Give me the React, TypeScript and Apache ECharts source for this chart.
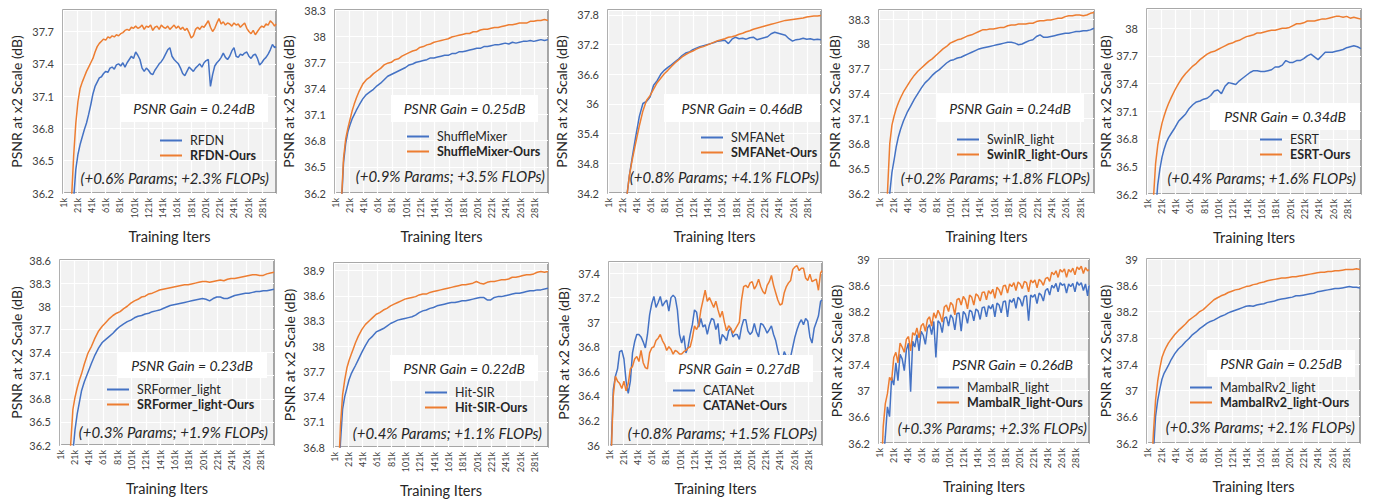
import React, { useEffect, useRef } from "react";
import * as echarts from "echarts";

// ---------- axis categories / iteration grids ----------
const CATEGORIES = Array.from({ length: 300 }, (_, i) => `${i + 1}k`);

const SMOOTH_ITERS = [1, 6, 10, 13, 16, 19, 22, 25, 28, 31, 35, 40, 45, 50,
  55, 60, 65, 70, 75, 80, 85, 90, 95, 100, 105, 110, 115, 120, 125, 130, 135, 140, 145, 150,
  155, 160, 165, 170, 175, 180, 185, 190, 195, 200, 205, 210, 215, 220, 225, 230, 235, 240, 245, 250,
  255, 260, 265, 270, 275, 280, 285, 290, 295, 300];

const NOISY_ITERS = [1, 4, 7, 10, 13, 16, 19, 22, 25, 28, 31, 34, 37, 40, 43, 46, 49, 52, 55, 58,
  61, 64, 67, 70, 73, 76, 79, 82, 85, 88, 91, 94, 97, 100, 103, 106, 109, 112, 115, 118,
  121, 124, 127, 130, 133, 136, 139, 142, 145, 148, 151, 154, 157, 160, 163, 166, 169, 172, 175, 178,
  181, 184, 187, 190, 193, 196, 199, 202, 205, 208, 211, 214, 217, 220, 223, 226, 229, 232, 235, 238,
  241, 244, 247, 250, 253, 256, 259, 262, 265, 268, 271, 274, 277, 280, 283, 286, 289, 292, 295, 298, 300];

// ---------- names & annotations ----------
const BASE_NAMES = ["RFDN", "ShuffleMixer", "SMFANet", "SwinIR_light", "ESRT",
  "SRFormer_light", "Hit-SIR", "CATANet", "MambaIR_light", "MambaIRv2_light"];
const GAINS = ["0.24", "0.25", "0.46", "0.24", "0.34", "0.23", "0.22", "0.27", "0.26", "0.25"];
const PARAMS = ["+0.6", "+0.9", "+0.8", "+0.2", "+0.4", "+0.3", "+0.4", "+0.8", "+0.3", "+0.3"];
const FLOPS = ["+2.3", "+3.5", "+4.1", "+1.8", "+1.6", "+1.9", "+1.1", "+1.5", "+2.3", "+2.1"];

// y axis: [min, max, interval]
const Y_AXES = [
  [36.2, 37.9, 0.3], [36.2, 38.3, 0.3], [34.2, 37.9, 0.6], [36.2, 38.41, 0.3], [36.2, 38.21, 0.3],
  [36.2, 38.6, 0.3], [36.8, 38.99, 0.3], [36.0, 37.49, 0.2], [36.2, 39.0, 0.4], [36.2, 39.0, 0.4],
];

// ---------- series values ----------
const RFDN_BASE = [34.8, 35.1, 35.4, 35.7, 35.95, 36.15, 36.42, 36.56, 36.65, 36.72,
  36.79, 36.85, 36.93, 37.02, 37.12, 37.19, 37.23, 37.27, 37.28, 37.31,
  37.33, 37.32, 37.36, 37.37, 37.35, 37.39, 37.4, 37.38, 37.41, 37.37,
  37.41, 37.44, 37.47, 37.45, 37.51, 37.48, 37.44, 37.36, 37.33, 37.36,
  37.34, 37.31, 37.3, 37.34, 37.37, 37.4, 37.42, 37.45, 37.49, 37.53,
  37.55, 37.47, 37.44, 37.42, 37.4, 37.36, 37.31, 37.29, 37.33, 37.37,
  37.35, 37.33, 37.36, 37.38, 37.4, 37.37, 37.41, 37.43, 37.44, 37.19,
  37.3, 37.38, 37.41, 37.43, 37.46, 37.5, 37.46, 37.44, 37.47, 37.52,
  37.55, 37.47, 37.46, 37.49, 37.48, 37.5, 37.51, 37.47, 37.45, 37.48,
  37.49, 37.45, 37.39, 37.41, 37.44, 37.46, 37.49, 37.53, 37.58, 37.55, 37.56];
const RFDN_OURS = [35.0, 35.3, 35.6, 35.9, 36.15, 36.55, 36.85, 37.05, 37.17, 37.23,
  37.28, 37.33, 37.37, 37.41, 37.45, 37.51, 37.56, 37.59, 37.61, 37.63,
  37.62, 37.65, 37.64, 37.66, 37.65, 37.67, 37.66, 37.68, 37.69, 37.71,
  37.72, 37.71, 37.74, 37.73, 37.75, 37.73, 37.74, 37.76, 37.72, 37.75,
  37.74, 37.76, 37.71, 37.74, 37.75, 37.72, 37.76, 37.74, 37.73, 37.75,
  37.72, 37.74, 37.76, 37.73, 37.75, 37.72, 37.74, 37.71, 37.73, 37.69,
  37.64, 37.66, 37.72, 37.74, 37.72, 37.75, 37.74, 37.77, 37.8, 37.74,
  37.7, 37.73, 37.78, 37.82, 37.77, 37.79, 37.76, 37.78, 37.77, 37.75,
  37.78, 37.76, 37.77, 37.74, 37.76, 37.78, 37.73, 37.7, 37.68, 37.71,
  37.67, 37.7, 37.73, 37.75, 37.74, 37.77, 37.76, 37.8, 37.78, 37.75, 37.77];

const SHUFFLE_BASE = [34.4, 35.2, 36.05, 36.55, 36.77, 36.9, 36.98, 37.05, 37.1, 37.15, 37.21, 37.28, 37.33, 37.36,
  37.39, 37.43, 37.46, 37.5, 37.54, 37.56, 37.58, 37.6, 37.62, 37.64,
  37.67, 37.68, 37.7, 37.71, 37.72, 37.73, 37.75, 37.75, 37.76, 37.77,
  37.78, 37.78, 37.8, 37.8, 37.82, 37.82, 37.83, 37.84, 37.85, 37.86,
  37.86, 37.88, 37.88, 37.89, 37.9, 37.9, 37.91, 37.92, 37.91, 37.93,
  37.92, 37.93, 37.94, 37.94, 37.95, 37.94, 37.95, 37.96, 37.95, 37.96];
const SHUFFLE_OURS = [34.5, 35.3, 36.1, 36.6, 36.82, 36.94, 37.04, 37.14, 37.22, 37.29, 37.37, 37.45, 37.5, 37.53,
  37.57, 37.6, 37.63, 37.67, 37.69, 37.7, 37.73, 37.74, 37.77, 37.79,
  37.81, 37.83, 37.84, 37.87, 37.88, 37.9, 37.91, 37.93, 37.94, 37.95,
  37.96, 37.97, 37.99, 38.0, 38.01, 38.02, 38.03, 38.03, 38.05, 38.05,
  38.07, 38.08, 38.08, 38.09, 38.1, 38.1, 38.11, 38.12, 38.13, 38.13,
  38.14, 38.15, 38.15, 38.15, 38.17, 38.17, 38.18, 38.18, 38.19, 38.18];

const SMFA_BASE = [30.2, 31.0, 31.6, 32.1, 32.6, 33.1, 33.5, 33.9, 34.2, 34.55, 34.92, 35.35, 35.75, 36.01,
  36.05, 36.14, 36.38, 36.47, 36.6, 36.68, 36.74, 36.79, 36.85, 36.91,
  36.98, 37.03, 37.05, 37.1, 37.13, 37.16, 37.18, 37.2, 37.22, 37.24,
  37.27, 37.28, 37.29, 37.22, 37.31, 37.35, 37.32, 37.33, 37.31, 37.34,
  37.35, 37.3, 37.32, 37.34, 37.36, 37.42, 37.45, 37.43, 37.41, 37.39,
  37.32, 37.27, 37.3, 37.31, 37.33, 37.31, 37.32, 37.3, 37.31, 37.3];
const SMFA_OURS = [30.0, 30.8, 31.5, 32.0, 32.5, 33.0, 33.5, 33.9, 34.2, 34.55, 34.87, 35.22, 35.56, 35.86,
  36.07, 36.17, 36.3, 36.43, 36.52, 36.61, 36.68, 36.76, 36.83, 36.89,
  36.95, 37.0, 37.04, 37.07, 37.11, 37.14, 37.16, 37.19, 37.22, 37.25,
  37.28, 37.3, 37.32, 37.35, 37.36, 37.38, 37.41, 37.43, 37.46, 37.48,
  37.51, 37.53, 37.55, 37.57, 37.59, 37.61, 37.63, 37.65, 37.67, 37.69,
  37.7, 37.71, 37.72, 37.73, 37.74, 37.76, 37.77, 37.78, 37.78, 37.79];

const SWINIR_BASE = [33.8, 34.6, 35.3, 35.8, 36.2, 36.45, 36.6, 36.76, 36.88, 36.97, 37.07, 37.17, 37.25, 37.33,
  37.4, 37.47, 37.53, 37.57, 37.62, 37.66, 37.69, 37.73, 37.77, 37.8,
  37.81, 37.83, 37.84, 37.86, 37.88, 37.9, 37.92, 37.94, 37.95, 37.96,
  37.97, 37.98, 37.99, 38.0, 38.01, 38.02, 38.02, 38.01, 37.99, 38.0,
  38.02, 38.04, 38.05, 38.09, 38.11, 38.08, 38.08, 38.09, 38.1, 38.11,
  38.12, 38.13, 38.13, 38.14, 38.15, 38.15, 38.16, 38.16, 38.17, 38.19];
const SWINIR_OURS = [34.0, 34.8, 35.6, 36.25, 36.8, 37.02, 37.13, 37.22, 37.29, 37.35, 37.42, 37.49, 37.56, 37.62,
  37.67, 37.71, 37.75, 37.79, 37.82, 37.86, 37.9, 37.94, 37.97, 38.01,
  38.03, 38.05, 38.06, 38.08, 38.1, 38.11, 38.13, 38.15, 38.17, 38.17,
  38.18, 38.18, 38.19, 38.2, 38.2, 38.22, 38.23, 38.23, 38.24, 38.24,
  38.24, 38.25, 38.25, 38.27, 38.28, 38.28, 38.29, 38.29, 38.3, 38.31,
  38.31, 38.33, 38.34, 38.34, 38.35, 38.35, 38.34, 38.35, 38.37, 38.38];

const ESRT_BASE = [34.2, 35.0, 35.6, 36.0, 36.3, 36.47, 36.6, 36.69, 36.76, 36.81, 36.86, 36.92, 36.99, 37.03,
  37.07, 37.13, 37.17, 37.2, 37.21, 37.23, 37.24, 37.27, 37.32, 37.33,
  37.29, 37.37, 37.41, 37.4, 37.39, 37.43, 37.46, 37.49, 37.52, 37.54,
  37.54, 37.53, 37.53, 37.54, 37.55, 37.58, 37.58, 37.6, 37.65, 37.63,
  37.63, 37.65, 37.65, 37.67, 37.7, 37.72, 37.69, 37.66, 37.7, 37.74,
  37.74, 37.74, 37.75, 37.76, 37.77, 37.79, 37.8, 37.81, 37.8, 37.78];
const ESRT_OURS = [34.5, 35.4, 36.15, 36.53, 36.73, 36.86, 36.97, 37.05, 37.12, 37.18, 37.25, 37.33, 37.4, 37.46,
  37.51, 37.55, 37.59, 37.62, 37.66, 37.69, 37.72, 37.74, 37.75, 37.77,
  37.79, 37.81, 37.83, 37.84, 37.86, 37.87, 37.89, 37.91, 37.92, 37.93,
  37.95, 37.95, 37.96, 37.97, 37.98, 37.98, 37.99, 38.0, 38.0, 38.01,
  38.03, 38.05, 38.05, 38.06, 38.08, 38.08, 38.08, 38.09, 38.1, 38.1,
  38.11, 38.12, 38.13, 38.13, 38.12, 38.13, 38.11, 38.12, 38.11, 38.1];

const SRFORMER_BASE = [33.8, 34.5, 35.1, 35.5, 35.85, 36.1, 36.4, 36.6, 36.75, 36.9, 37.02, 37.14, 37.26, 37.37,
  37.46, 37.53, 37.57, 37.61, 37.65, 37.7, 37.74, 37.77, 37.8, 37.82,
  37.85, 37.87, 37.88, 37.9, 37.91, 37.93, 37.94, 37.95, 37.97, 37.99,
  38.01, 38.02, 38.03, 38.04, 38.05, 38.06, 38.07, 38.08, 38.09, 38.1,
  38.09, 38.07, 38.1, 38.12, 38.12, 38.1, 38.1, 38.12, 38.14, 38.15,
  38.16, 38.17, 38.17, 38.18, 38.19, 38.19, 38.2, 38.2, 38.21, 38.22];
const SRFORMER_OURS = [34.0, 34.7, 35.3, 35.8, 36.22, 36.66, 36.82, 36.94, 37.04, 37.12, 37.25, 37.39, 37.48, 37.59,
  37.68, 37.74, 37.79, 37.84, 37.88, 37.91, 37.93, 37.97, 38.0, 38.04,
  38.07, 38.09, 38.12, 38.13, 38.16, 38.17, 38.19, 38.21, 38.22, 38.23,
  38.24, 38.25, 38.26, 38.27, 38.28, 38.28, 38.29, 38.3, 38.31, 38.32,
  38.32, 38.31, 38.32, 38.33, 38.34, 38.33, 38.35, 38.36, 38.36, 38.37,
  38.38, 38.39, 38.4, 38.41, 38.41, 38.4, 38.4, 38.42, 38.43, 38.44];

const HITSIR_BASE = [34.8, 36.0, 36.85, 37.25, 37.4, 37.5, 37.6, 37.67, 37.72, 37.77, 37.84, 37.93, 38.01, 38.08,
  38.12, 38.17, 38.19, 38.21, 38.24, 38.27, 38.29, 38.31, 38.32, 38.33,
  38.34, 38.35, 38.37, 38.4, 38.42, 38.43, 38.45, 38.46, 38.48, 38.49,
  38.5, 38.51, 38.52, 38.52, 38.53, 38.54, 38.54, 38.55, 38.56, 38.57,
  38.58, 38.58, 38.55, 38.55, 38.58, 38.59, 38.59, 38.6, 38.61, 38.62,
  38.63, 38.63, 38.64, 38.65, 38.66, 38.66, 38.67, 38.67, 38.68, 38.69];
const HITSIR_OURS = [35.0, 36.2, 37.05, 37.42, 37.6, 37.74, 37.83, 37.9, 37.97, 38.04, 38.12, 38.2, 38.26, 38.3,
  38.34, 38.38, 38.4, 38.43, 38.45, 38.48, 38.5, 38.52, 38.54, 38.56,
  38.57, 38.58, 38.59, 38.61, 38.62, 38.62, 38.64, 38.65, 38.66, 38.67,
  38.68, 38.69, 38.7, 38.71, 38.72, 38.73, 38.73, 38.74, 38.75, 38.77,
  38.75, 38.74, 38.76, 38.77, 38.77, 38.78, 38.79, 38.79, 38.8, 38.82,
  38.82, 38.83, 38.84, 38.85, 38.85, 38.86, 38.88, 38.89, 38.88, 38.89];

const CATANET_BASE = [35.5, 35.95, 36.45, 36.56, 36.62, 36.76, 36.77, 36.7, 36.52, 36.42,
  36.52, 36.75, 36.84, 36.9, 36.9, 36.88, 36.84, 36.79, 36.9, 37.06,
  37.15, 37.21, 37.12, 37.16, 37.21, 37.13, 37.16, 37.18, 37.09, 37.2,
  37.22, 37.2, 37.1, 36.9, 36.83, 36.89, 36.75, 36.8, 36.9, 36.98,
  37.1, 37.08, 36.96, 37.03, 36.96, 36.98, 36.9, 36.98, 37.03, 37.02,
  36.94, 36.99, 36.82, 36.9, 36.88, 36.85, 36.93, 36.95, 36.88, 36.9,
  36.9, 36.86, 36.96, 37.02, 37.02, 36.93, 36.9, 36.92, 36.99, 36.92,
  36.88, 36.99, 36.98, 36.95, 36.91, 36.94, 36.97, 36.9, 36.85, 36.77,
  36.7, 36.68, 36.76, 36.72, 36.73, 36.72, 36.8, 36.88, 36.94, 36.99,
  37.02, 36.98, 37.03, 37.01, 36.88, 36.83, 36.95, 37.0, 37.05, 37.17, 37.18];
const CATANET_OURS = [35.6, 35.9, 36.4, 36.56, 36.52, 36.5, 36.46, 36.52, 36.44, 36.5,
  36.62, 36.64, 36.7, 36.72, 36.68, 36.77, 36.67, 36.63, 36.62, 36.75,
  36.79, 36.8, 36.85, 36.87, 36.9, 36.85, 36.82, 36.77, 36.8, 36.78,
  36.74, 36.77, 36.76, 36.74, 36.74, 36.76, 36.77, 36.79, 36.8, 36.87,
  36.97, 36.94, 36.98, 37.1, 37.18, 37.26, 37.17, 37.2, 37.16, 37.12,
  37.17, 37.1, 37.04, 37.09, 37.0, 36.93, 36.97, 36.95, 36.91, 36.94,
  36.97, 37.0, 37.18, 37.29, 37.3, 37.28, 37.32, 37.33, 37.27, 37.3,
  37.35, 37.29, 37.25, 37.23, 37.3, 37.33, 37.38, 37.3, 37.24, 37.18,
  37.14, 37.15, 37.24, 37.29, 37.32, 37.34, 37.43, 37.45, 37.46, 37.42,
  37.44, 37.44, 37.36, 37.34, 37.39, 37.33, 37.34, 37.35, 37.26, 37.4, 37.42];

const MAMBAIR_BASE = [34.8, 35.4, 35.9, 36.3, 36.75, 36.6, 37.2, 37.08, 37.42, 37.15,
  37.55, 37.48, 37.3, 37.62, 37.72, 36.98, 37.75, 37.66, 37.85, 37.6,
  37.9, 37.84, 37.7, 37.95, 38.0, 37.85, 38.05, 37.5, 38.06, 38.02,
  37.88, 38.1, 38.12, 37.98, 38.15, 38.1, 37.92, 38.17, 38.18, 37.9,
  38.2, 38.16, 38.02, 38.22, 38.2, 38.06, 38.24, 38.21, 38.08, 38.26,
  38.27, 38.12, 38.29, 38.24, 38.31, 38.12, 38.33, 38.3, 38.18, 38.35,
  38.36, 38.12, 38.38, 38.34, 38.4, 38.25, 38.42, 38.38, 38.28, 38.43,
  38.44, 38.06, 38.45, 38.42, 38.46, 38.32, 38.48, 38.45, 38.36, 38.52,
  38.55, 38.45, 38.6, 38.56, 38.63, 38.5, 38.64, 38.6, 38.62, 38.48,
  38.62, 38.58, 38.63, 38.5, 38.65, 38.6, 38.64, 38.52, 38.62, 38.44, 38.6];
const MAMBAIR_OURS = [35.0, 35.6, 36.45, 36.8, 36.95, 37.2, 37.15, 37.5, 37.58, 37.42,
  37.72, 37.66, 37.58, 37.78, 37.82, 37.6, 37.88, 37.84, 37.95, 37.8,
  37.98, 38.02, 37.9, 38.08, 38.12, 37.98, 38.18, 38.1, 38.22, 38.15,
  38.04, 38.27, 38.3, 38.2, 38.34, 38.3, 38.15, 38.38, 38.4, 38.3,
  38.43, 38.38, 38.24, 38.45, 38.42, 38.3, 38.47, 38.44, 38.36, 38.49,
  38.5, 38.38, 38.52, 38.47, 38.54, 38.4, 38.57, 38.53, 38.45, 38.59,
  38.6, 38.48, 38.62, 38.58, 38.64, 38.52, 38.65, 38.62, 38.55, 38.66,
  38.64, 38.5, 38.68, 38.64, 38.68, 38.56, 38.69, 38.66, 38.6, 38.7,
  38.72, 38.66, 38.8, 38.76, 38.82, 38.72, 38.84, 38.8, 38.85, 38.72,
  38.84, 38.8, 38.86, 38.76, 38.88, 38.84, 38.89, 38.78, 38.87, 38.82, 38.84];

const MAMBAIRV2_BASE = [34.2, 35.2, 36.05, 36.6, 36.85, 37.02, 37.17, 37.26, 37.32, 37.38, 37.47, 37.56, 37.63, 37.68,
  37.74, 37.79, 37.85, 37.89, 37.94, 37.98, 38.02, 38.05, 38.07, 38.1,
  38.13, 38.15, 38.18, 38.2, 38.22, 38.24, 38.26, 38.28, 38.29, 38.28,
  38.3, 38.31, 38.32, 38.34, 38.35, 38.36, 38.38, 38.39, 38.4, 38.41,
  38.42, 38.44, 38.44, 38.45, 38.46, 38.47, 38.48, 38.5, 38.51, 38.52,
  38.53, 38.54, 38.55, 38.55, 38.56, 38.57, 38.58, 38.57, 38.57, 38.56];
const MAMBAIRV2_OURS = [34.5, 35.5, 36.35, 36.85, 37.14, 37.34, 37.5, 37.59, 37.66, 37.72, 37.78, 37.85, 37.91, 37.96,
  38.01, 38.07, 38.11, 38.15, 38.2, 38.23, 38.28, 38.33, 38.38, 38.41,
  38.44, 38.46, 38.49, 38.51, 38.53, 38.54, 38.56, 38.58, 38.59, 38.61,
  38.62, 38.64, 38.65, 38.67, 38.68, 38.69, 38.7, 38.71, 38.71, 38.72,
  38.73, 38.73, 38.74, 38.75, 38.76, 38.77, 38.78, 38.79, 38.8, 38.8,
  38.81, 38.81, 38.82, 38.82, 38.83, 38.84, 38.84, 38.84, 38.85, 38.84];

const PANEL_DATA = [
  { iters: NOISY_ITERS, base: RFDN_BASE, ours: RFDN_OURS },
  { iters: SMOOTH_ITERS, base: SHUFFLE_BASE, ours: SHUFFLE_OURS },
  { iters: SMOOTH_ITERS, base: SMFA_BASE, ours: SMFA_OURS },
  { iters: SMOOTH_ITERS, base: SWINIR_BASE, ours: SWINIR_OURS },
  { iters: SMOOTH_ITERS, base: ESRT_BASE, ours: ESRT_OURS },
  { iters: SMOOTH_ITERS, base: SRFORMER_BASE, ours: SRFORMER_OURS },
  { iters: SMOOTH_ITERS, base: HITSIR_BASE, ours: HITSIR_OURS },
  { iters: NOISY_ITERS, base: CATANET_BASE, ours: CATANET_OURS },
  { iters: NOISY_ITERS, base: MAMBAIR_BASE, ours: MAMBAIR_OURS },
  { iters: SMOOTH_ITERS, base: MAMBAIRV2_BASE, ours: MAMBAIRV2_OURS },
];

// ---------- layout (pixels) ----------
const LAYOUT = [
  { grid: [63, 10, 213, 183], box: [120, 94, 148, 28], legend: [160, 134], params: [269, 178], yGap: 40 },
  { grid: [335, 10, 213, 183], box: [391, 95, 147, 27], legend: [407, 130], params: [545, 176], yGap: 40 },
  { grid: [608, 10, 213, 183], box: [664, 94, 156, 28], legend: [701, 131], params: [819, 177], yGap: 40 },
  { grid: [879, 10, 215, 183], box: [936, 94, 148, 28], legend: [957, 133], params: [1090, 178], yGap: 38 },
  { grid: [1147, 9, 214, 185], box: [1210, 103, 150, 27], legend: [1260, 133], params: [1356, 178], yGap: 34 },
  { grid: [60, 260, 214, 185], box: [117, 352, 150, 26], legend: [107, 383], params: [268, 432], yGap: 37 },
  { grid: [334, 263, 214, 184], box: [390, 355, 148, 26], legend: [425, 386], params: [542, 433], yGap: 38 },
  { grid: [609, 262, 213, 183], box: [665, 355, 148, 27], legend: [673, 384], params: [817, 433], yGap: 39 },
  { grid: [879, 259, 210, 184], box: [938, 351, 149, 27], legend: [937, 381], params: [1087, 428], yGap: 36 },
  { grid: [1147, 259, 213, 184], box: [1207, 350, 148, 27], legend: [1190, 381], params: [1355, 427], yGap: 34 },
];

const BLUE = "#4472C4";
const ORANGE = "#ED7D31";
const FONT = "Lato, 'Noto Sans', sans-serif";
const TXT = "#262626";

function buildOption() {
  const grid: any[] = [];
  const xAxis: any[] = [];
  const yAxis: any[] = [];
  const series: any[] = [];
  const legend: any[] = [];
  const elements: any[] = [];

  LAYOUT.forEach((L, i) => {
    const [gl, gt, gw, gh] = L.grid;
    const [mn, mx, step] = Y_AXES[i];
    grid.push({
      left: gl, top: gt, width: gw, height: gh,
      show: true, backgroundColor: "#f2f2f2", borderColor: "#8c8c8c", borderWidth: 1.5,
    });
    xAxis.push({
      type: "category", gridIndex: i, data: CATEGORIES, boundaryGap: false,
      axisLine: { show: false }, axisTick: { show: false, interval: 19 },
      axisLabel: { interval: 19, rotate: 90, fontSize: 9, color: "#404040", margin: 5, fontFamily: FONT },
      splitLine: { show: true, interval: 19, lineStyle: { color: "#ffffff", width: 1.2 } },
      name: "Training Iters", nameLocation: "middle", nameGap: 36,
      nameTextStyle: { fontSize: 14.5, color: TXT, fontFamily: FONT },
    });
    const maxIsTick = Math.abs(mn + step * Math.round((mx - mn) / step) - mx) < 1e-6;
    yAxis.push({
      type: "value", gridIndex: i, min: mn, max: mx, interval: step,
      axisLine: { show: false }, axisTick: { show: false },
      axisLabel: {
        fontSize: 11, color: "#404040", margin: 9, fontFamily: FONT, showMaxLabel: maxIsTick,
        formatter: (v: number) => String(Math.round(v * 10) / 10),
      },
      splitLine: { show: true, lineStyle: { color: "#ffffff", width: 1.2 } },
      name: "PSNR at x2 Scale (dB)", nameLocation: "middle", nameGap: L.yGap,
      nameTextStyle: { fontSize: 14, color: TXT, fontFamily: FONT },
    });
    const D = PANEL_DATA[i];
    const baseName = BASE_NAMES[i];
    const oursName = `${BASE_NAMES[i]}-Ours`;
    series.push({
      type: "line", name: baseName, xAxisIndex: i, yAxisIndex: i, symbol: "none", showSymbol: false,
      data: D.iters.map((k, j) => [k - 1, D.base[j]]),
      lineStyle: { color: BLUE, width: 1.5 }, itemStyle: { color: BLUE }, z: 2,
    });
    series.push({
      type: "line", name: oursName, xAxisIndex: i, yAxisIndex: i, symbol: "none", showSymbol: false,
      data: D.iters.map((k, j) => [k - 1, D.ours[j]]),
      lineStyle: { color: ORANGE, width: 1.5 }, itemStyle: { color: ORANGE }, z: 3,
    });
    legend.push({
      left: L.legend[0], top: L.legend[1], orient: "vertical", selectedMode: false,
      icon: "rect", itemWidth: 22, itemHeight: 2, itemGap: 2, padding: 0,
      textStyle: { fontSize: 12.5, color: TXT, fontFamily: FONT, padding: [0, 0, 0, 3] },
      data: [{ name: baseName }, { name: oursName, textStyle: { fontWeight: "bold" } }],
    });
    const [bx, by, bw, bh] = L.box;
    elements.push({
      type: "rect", z: 100, shape: { x: bx, y: by, width: bw, height: bh }, style: { fill: "#ffffff" },
    });
    elements.push({
      type: "text", z: 101, x: bx + bw / 2, y: by + bh / 2,
      style: {
        text: `PSNR Gain = ${GAINS[i]}dB`, fill: TXT, fontSize: 14, fontStyle: "italic", fontFamily: FONT,
        align: "center", verticalAlign: "middle", textAlign: "center", textVerticalAlign: "middle",
      },
    });
    elements.push({
      type: "text", z: 101, x: L.params[0], y: L.params[1],
      style: {
        text: `(${PARAMS[i]}% Params; ${FLOPS[i]}% FLOPs)`, fill: TXT, fontSize: 15, fontStyle: "italic",
        fontFamily: FONT, align: "right", verticalAlign: "middle", textAlign: "right", textVerticalAlign: "middle",
      },
    });
  });

  return {
    animation: false,
    backgroundColor: "#ffffff",
    textStyle: { fontFamily: FONT },
    grid, xAxis, yAxis, series, legend,
    graphic: { elements },
  };
}

export default function App() {
  const ref = useRef<HTMLDivElement>(null);
  useEffect(() => {
    if (!ref.current) return;
    const chart = echarts.init(ref.current, undefined, { renderer: "svg" });
    chart.setOption(buildOption() as any);
    return () => chart.dispose();
  }, []);
  return (
    <div
      ref={ref}
      style={{ position: "absolute", left: 0, top: 0, width: 1380, height: 500 }}
    />
  );
}
